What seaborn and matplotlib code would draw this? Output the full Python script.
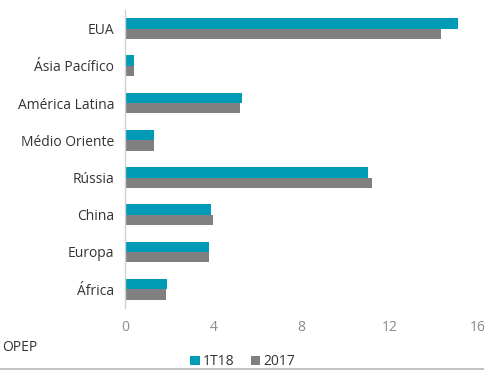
import matplotlib
matplotlib.use("Agg")
import matplotlib.pyplot as plt
import seaborn as sns
import pandas as pd
from matplotlib.patches import Patch
from matplotlib.lines import Line2D

categories = ["EUA", "Ásia Pacífico", "América Latina", "Médio Oriente",
              "Rússia", "China", "Europa", "África"]
v_1t18 = [15.1, 0.4, 5.3, 1.3, 11.0, 3.9, 3.8, 1.9]
v_2017 = [14.3, 0.4, 5.2, 1.3, 11.2, 4.0, 3.8, 1.85]
series = ["1T18", "2017"]
colors = ["#009BB6", "#808080"]
xticks = [0, 4, 8, 12, 16]

df = pd.DataFrame({
    "region": categories * 2,
    "value": v_1t18 + v_2017,
    "series": [series[0]] * len(categories) + [series[1]] * len(categories),
})

sns.set_theme(style="white")
plt.rcParams['font.family'] = ['Open Sans', 'DejaVu Sans']

fig = plt.figure(figsize=(4.85, 3.7), dpi=100)
ax = fig.add_axes([0.258, 0.168, 0.728, 0.805])
sns.barplot(data=df, y="region", x="value", hue="series", order=categories,
            hue_order=series, palette=colors, orient="h", width=0.56,
            saturation=1, linewidth=0, ax=ax, legend=False)

ax.set_xlim(0, 16)
ax.set_xticks(xticks)
ax.set_xticklabels([str(t) for t in xticks], color="#8a8a8a", fontsize=10)
ax.tick_params(axis="y", labelsize=10, labelcolor="#333333", length=0, pad=8,
               left=False)
ax.tick_params(axis="x", length=0, pad=9, bottom=False)
ax.set_xlabel("")
ax.set_ylabel("")
for s in ["top", "right", "bottom"]:
    ax.spines[s].set_visible(False)
ax.spines["left"].set_color("#d0d0d0")
ax.spines["left"].set_linewidth(1)

fig.text(0.004, 0.062, "OPEP", fontsize=10, color="#333333", va="center", ha="left")

handles = [Patch(facecolor=c, edgecolor="none") for c in colors]
fig.legend(handles, series, loc="center", bbox_to_anchor=(0.5, 0.022), ncol=2,
           frameon=False, fontsize=10, handlelength=0.7, handleheight=0.7,
           handletextpad=0.2, columnspacing=1.2, labelcolor="#333333")

fig.add_artist(Line2D([0, 1], [0.003, 0.003], color="#b8b8b8", linewidth=1.2,
                      transform=fig.transFigure))

fig.savefig("out.png", dpi=100)
